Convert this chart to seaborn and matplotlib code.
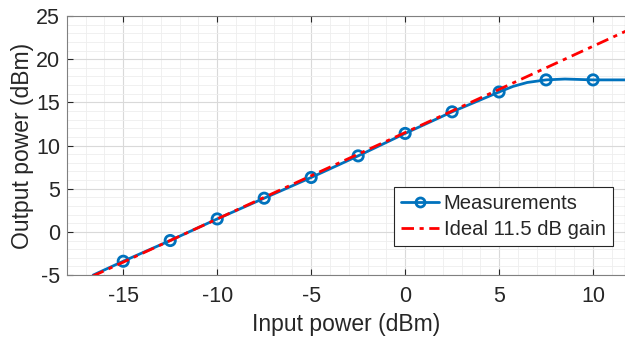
import numpy as np
import pandas as pd
import matplotlib.pyplot as plt
from matplotlib.lines import Line2D
from matplotlib.ticker import MultipleLocator
import seaborn as sns

# Datos
pin = [-15, -12.5, -10, -7.5, -5, -2.5, 0, 2.5, 5, 7.5, 10]
pout = [-3.4, -1.0, 1.5, 3.9, 6.3, 8.8, 11.4, 13.9, 16.2, 17.6, 17.6]

curve_x = [-16.6, -15, -12.5, -10, -7.5, -5, -2.5, 0, 2.5, 5, 5.75, 6.5, 7.5, 8.5, 10, 11.7]
curve_y = [-5.0, -3.4, -1.0, 1.5, 3.9, 6.3, 8.8, 11.4, 13.9, 16.2, 16.85, 17.3, 17.6, 17.7, 17.6, 17.6]

gain = 11.5
ideal_x = [-18, 12]
ideal_y = [x + gain for x in ideal_x]

sns.set_style("white")
plt.rcParams["font.family"] = ["Liberation Sans", "DejaVu Sans"]
plt.rcParams["axes.unicode_minus"] = False

fig = plt.figure(figsize=(6.25, 3.4), dpi=100)
ax = fig.add_axes([0.107, 0.191, 0.893, 0.762])

blue = "#0072BD"
red = "#FF0000"
dashdot = (0, (4.5, 2, 1.5, 2))

sns.lineplot(x=curve_x, y=curve_y, ax=ax, color=blue, lw=2, sort=False, zorder=3)
sns.scatterplot(x=pin, y=pout, ax=ax, marker="o", s=55, facecolor="none",
                edgecolor=blue, linewidth=2, zorder=4)
sns.lineplot(x=ideal_x, y=ideal_y, ax=ax, color=red, lw=2, linestyle=dashdot, zorder=5)

ax.set_xlim(-18, 11.7)
ax.set_ylim(-5, 25)
ax.xaxis.set_major_locator(MultipleLocator(5))
ax.xaxis.set_minor_locator(MultipleLocator(1))
ax.yaxis.set_major_locator(MultipleLocator(5))
ax.yaxis.set_minor_locator(MultipleLocator(1))

ax.grid(True, which="major", color="#d9d9d9", lw=0.8)
ax.grid(True, which="minor", color="#eeeeee", lw=0.6)
ax.set_axisbelow(True)

for sp in ax.spines.values():
    sp.set_color("#808080")
    sp.set_linewidth(0.8)

ax.tick_params(which="both", direction="in", colors="#262626", labelsize=15.5,
               top=True, left=True, bottom=True, right=False)
ax.tick_params(which="major", length=4)
ax.tick_params(which="minor", length=0)
ax.tick_params(axis="x", pad=8)
ax.tick_params(axis="y", pad=5)

ax.set_xlabel("Input power (dBm)", fontsize=16.5, color="#262626", labelpad=4)
ax.set_ylabel("Output power (dBm)", fontsize=16.5, color="#262626", labelpad=1)

handles = [
    Line2D([], [], color=blue, lw=2, marker="o", markersize=6.5, markerfacecolor="none",
           markeredgewidth=2),
    Line2D([], [], color=red, lw=2, linestyle=dashdot),
]
leg = ax.legend(handles, ["Measurements", "Ideal 11.5 dB gain"], loc="lower right",
                bbox_to_anchor=(0.978, 0.112), fontsize=14.6, frameon=True, fancybox=False,
                edgecolor="#262626", handlelength=1.85, handletextpad=0.25,
                borderpad=0.35, labelspacing=0.35, borderaxespad=0)
leg.get_frame().set_linewidth(0.8)
leg.get_frame().set_alpha(1)

fig.savefig("out.png", dpi=100)
